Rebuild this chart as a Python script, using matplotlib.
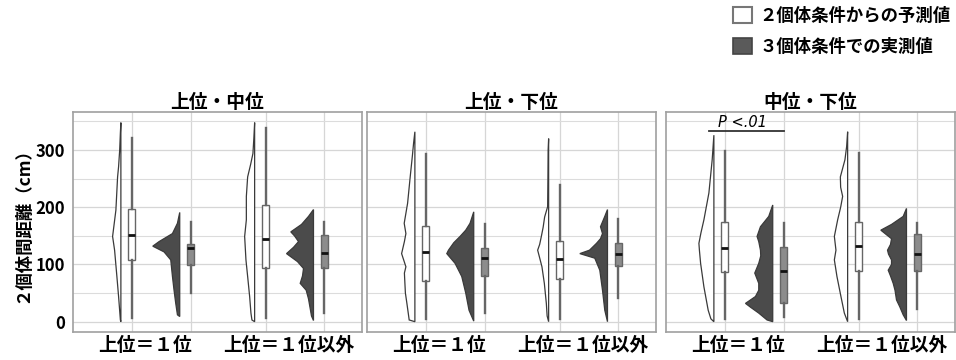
import numpy as np
import matplotlib.pyplot as plt
from matplotlib.patches import Patch

plt.rcParams['font.family'] = ['Noto Sans CJK JP', 'DejaVu Sans']

panels = ['上位・中位', '上位・下位', '中位・下位']
categories = ['上位＝１位', '上位＝１位以外']
legend_labels = ['２個体条件からの予測値', '３個体条件での実測値']

# box stats per category: [whisker low, q1, median, q3, whisker high]
pred_box_p1 = [[6, 107, 151, 197, 321], [6, 93, 145, 204, 338]]
pred_box_p2 = [[4, 71, 122, 168, 293], [4, 74, 109, 141, 239]]
pred_box_p3 = [[4, 86, 129, 175, 299], [4, 89, 133, 175, 294]]
obs_box_p1 = [[50, 99, 129, 135, 175], [16, 93, 120, 152, 175]]
obs_box_p2 = [[15, 79, 111, 128, 171], [41, 98, 118, 137, 179]]
obs_box_p3 = [[9, 33, 89, 131, 173], [23, 89, 118, 153, 173]]

# half violin outlines: (distance cm, relative density)
pred_violin_p1 = [
    [(0, 0), (3, 0.5), (44, 2.3), (79, 4), (125, 6.3), (149, 8.3), (195, 5), (253, 3.3),
     (271, 2.3), (300, 1.2), (330, 0.5), (348, 0)],
    [(0, 0), (3, 2.7), (15, 3.7), (44, 5), (79, 7), (108, 8.7), (149, 10), (178, 8.3),
     (219, 8.3), (253, 7), (275, 4), (294, 1.7), (320, 0.8), (348, 0)],
]
obs_violin_p1 = [
    [(9, 0), (12, 2.3), (32, 4), (55, 5.7), (79, 7.3), (108, 9), (122, 15.7), (132, 27),
     (140, 20.7), (154, 7.3), (172, 2.3), (191, 0)],
    [(2, 0), (10, 2), (25, 3.5), (40, 5), (55, 7.3), (67, 13.3), (80, 11), (93, 10),
     (105, 16), (119, 27), (130, 20), (140, 15), (150, 19), (157, 22.7), (170, 12),
     (184, 5), (196, 0)],
]
pred_violin_p2 = [
    [(0, 0), (3, 5.7), (32, 8), (50, 9.5), (67, 10), (85, 10.5), (96, 9), (119, 13.3),
     (140, 10.5), (154, 9), (172, 10.7), (207, 7.3), (253, 4.7), (290, 2.5), (312, 1.3),
     (332, 0)],
    [(0, 0), (10, 1.5), (32, 2.3), (67, 4.3), (96, 6.7), (115, 9.5), (125, 11), (135, 9),
     (149, 7.3), (165, 5.5), (183, 4), (201, 1), (253, 0.7), (300, 0.5), (320, 0)],
]
obs_violin_p2 = [
    [(1, 0), (20, 4.7), (50, 8), (79, 12), (102, 18.7), (119, 27), (125, 25.3), (138, 20),
     (149, 13.7), (160, 8), (172, 3.7), (192, 0)],
    [(0, 0), (20, 2.7), (55, 5), (90, 7.7), (111, 12.7), (119, 27.7), (125, 18), (137, 11),
     (145, 7), (154, 5), (166, 7), (184, 2.7), (196, 0)],
]
pred_violin_p3 = [
    [(0, 0), (5, 3), (20, 5.7), (61, 10), (102, 13.3), (125, 14.5), (137, 15), (155, 13),
     (178, 10), (225, 5), (283, 1.7), (326, 0)],
    [(0, 0), (15, 3.3), (44, 6.7), (79, 10.7), (108, 13.3), (125, 11.7), (149, 13.3),
     (178, 10), (200, 7), (219, 5), (235, 7), (253, 7.3), (283, 2.7), (306, 1), (332, 0)],
]
obs_violin_p3 = [
    [(0, 0), (3, 5.7), (15, 14), (25, 22), (32, 27.3), (44, 17.3), (55, 14), (67, 14),
     (85, 18), (102, 14), (115, 12), (125, 12.3), (140, 14), (149, 15.7), (166, 12.3),
     (184, 4), (204, 0)],
    [(2, 0), (12, 3.3), (26, 6.7), (38, 10), (55, 11.5), (67, 13.3), (80, 16), (90, 18.3),
     (100, 15), (108, 15), (118, 18), (125, 19), (135, 16), (145, 15), (152, 20),
     (160, 25.7), (170, 15), (184, 3.3), (198, 0)],
]

pred_box = [pred_box_p1, pred_box_p2, pred_box_p3]
obs_box = [obs_box_p1, obs_box_p2, obs_box_p3]
pred_violin = [pred_violin_p1, pred_violin_p2, pred_violin_p3]
obs_violin = [obs_violin_p1, obs_violin_p2, obs_violin_p3]

dens_scale = 1 / 134.0   # density units -> x units
dodge = 0.44             # offset of measured series
gap = 0.082              # violin edge sits left of its box
box_w = 0.052
pred_face = 'white'
obs_box_face = '#8c8c8c'
obs_violin_face = '#4b4b4b'
line_col = '#666666'


def half_violin(ax, x_edge, prof, face):
    ys = np.array([p[0] for p in prof], dtype=float)
    ws = np.array([p[1] for p in prof], dtype=float) * dens_scale
    xs = np.concatenate([x_edge - ws, [x_edge]])
    yy = np.concatenate([ys, [ys[0]]])
    ax.fill(xs, yy, facecolor=face, edgecolor='#3a3a3a', lw=0.9, zorder=3)


def box(ax, x, s, face):
    st = [dict(whislo=s[0], q1=s[1], med=s[2], q3=s[3], whishi=s[4], fliers=[])]
    ax.bxp(st, positions=[x], widths=box_w, patch_artist=True, showcaps=False,
           manage_ticks=False,
           boxprops=dict(facecolor=face, edgecolor=line_col, lw=1.0),
           whiskerprops=dict(color=line_col, lw=1.7),
           medianprops=dict(color='#111111', lw=2.0))


fig = plt.figure(figsize=(9.56, 3.6), dpi=100)
lefts = [73, 367, 666]
axes = []
for i, name in enumerate(panels):
    ax = fig.add_axes([lefts[i] / 956, 28.3 / 360, 288.5 / 956, 219.4 / 360])
    axes.append(ax)
    ax.set_xlim(0.56, 2.717)
    ax.set_ylim(-17.5, 366)
    ax.set_yticks([0, 100, 200, 300])
    ax.set_yticks([50, 150, 250, 350], minor=True)
    ax.grid(axis='y', which='major', color='#d6d6d6', lw=0.9)
    ax.grid(axis='y', which='minor', color='#dcdcdc', lw=0.8)
    ax.set_axisbelow(True)
    for c in range(len(categories)):
        xc = c + 1
        for gx in (xc, xc + dodge):
            ax.axvline(gx, color='#d6d6d6', lw=0.9, zorder=0)
        half_violin(ax, xc - gap, pred_violin[i][c], pred_face)
        box(ax, xc, pred_box[i][c], pred_face)
        half_violin(ax, xc + dodge - gap, obs_violin[i][c], obs_violin_face)
        box(ax, xc + dodge, obs_box[i][c], obs_box_face)
    ax.set_xticks([1.10, 2.17])
    ax.set_xticklabels(categories, fontsize=13.5, fontweight='bold')
    ax.tick_params(axis='x', length=0, pad=3)
    ax.tick_params(axis='y', which='both', length=0, pad=6, labelsize=12)
    for lbl in ax.get_yticklabels():
        lbl.set_fontweight('bold')
    if i > 0:
        ax.tick_params(axis='y', labelleft=False)
    for sp in ax.spines.values():
        sp.set_color('#a0a0a0')
        sp.set_linewidth(1.2)
    ax.set_title(name, fontsize=13.5, fontweight='bold', pad=3)

# significance bracket
axes[2].plot([0.88, 1.44], [333, 333], color='#333333', lw=1.3, zorder=4)
axes[2].text(1.134, 349, 'P <.01', family='DejaVu Sans', style='italic',
             fontsize=10.5, ha='center', va='center')

fig.text(22 / 956, 1 - 221 / 360, '２個体間距離（cm）', rotation=90, fontsize=12.5,
         fontweight='bold', ha='center', va='center')

handles = [Patch(facecolor=pred_face, edgecolor='#777777', lw=1.5),
           Patch(facecolor='#5a5a5a', edgecolor='#444444', lw=1.2)]
fig.legend(handles, legend_labels, loc='upper left', bbox_to_anchor=(733 / 956, 1 - 7 / 360),
           frameon=False, handlelength=1.08, handleheight=1.08,
           handletextpad=0.45, labelspacing=0.72, borderpad=0, borderaxespad=0,
           prop=dict(weight='bold', size=12.5))

fig.savefig('out.png', dpi=100)
